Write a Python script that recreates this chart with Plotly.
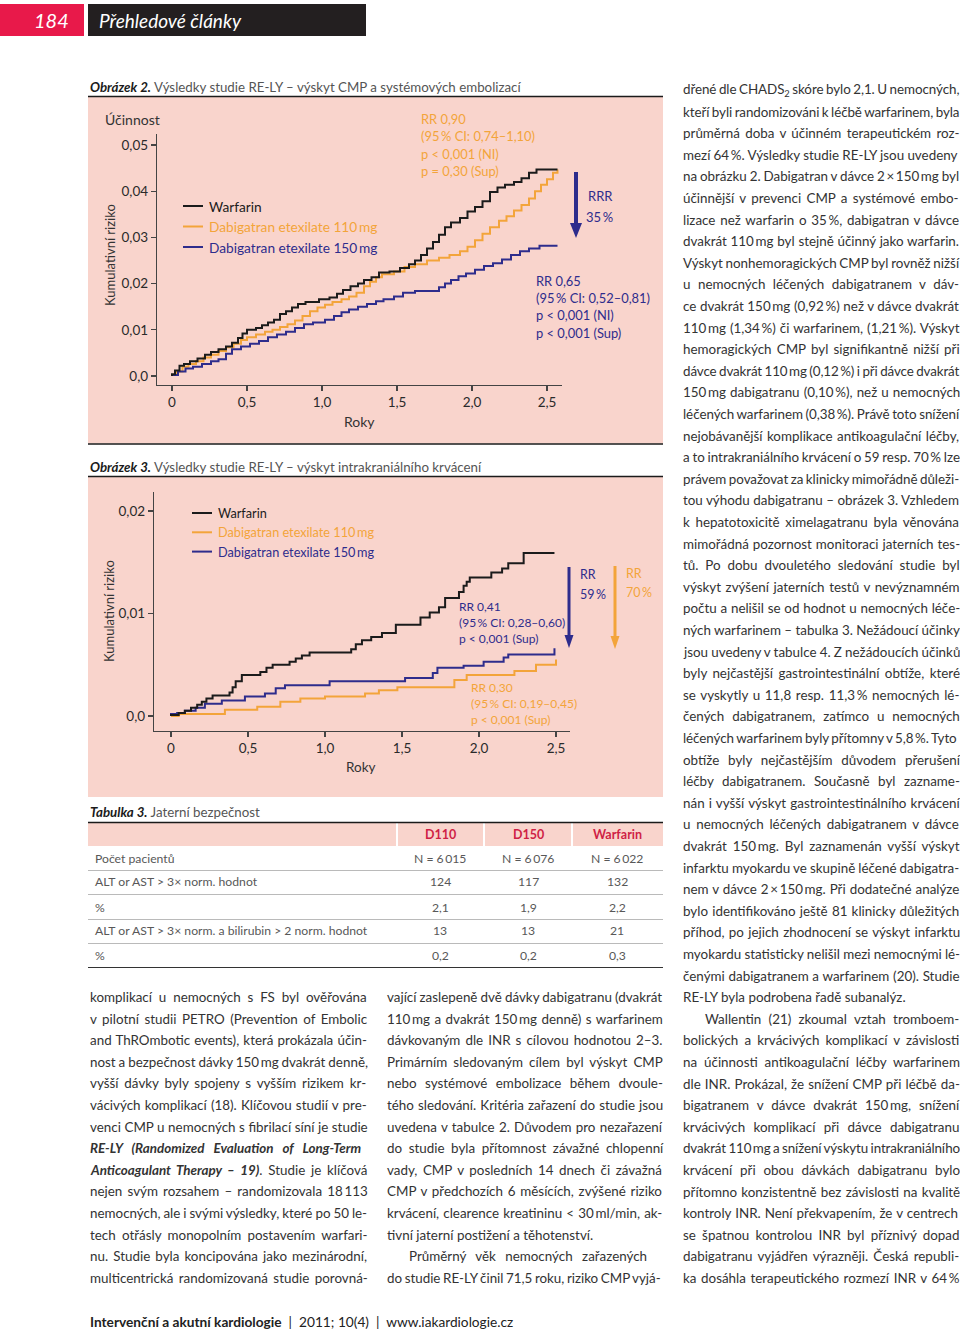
import glob
import os
import re
import struct

import plotly.graph_objects as go

# ---------------------------------------------------------------- data
tick_years = [0, 0.5, 1.0, 1.5, 2.0, 2.5]
tick_year_labels = ["0", "0,5", "1,0", "1,5", "2,0", "2,5"]

fig2_yticks = [0, 0.01, 0.02, 0.03, 0.04, 0.05]
fig2_ytick_labels = ["0,0", "0,01", "0,02", "0,03", "0,04", "0,05"]
fig3_yticks = [0, 0.01, 0.02]
fig3_ytick_labels = ["0,0", "0,01", "0,02"]

series_names = ["Warfarin", "Dabigatran etexilate 110\u2009mg", "Dabigatran etexilate 150\u2009mg"]

# Obrázek 2 – CMP / systémová embolizace (Kaplan-Meier, schodovitě)
f2_warf_x = [0, 0.02, 0.05, 0.08, 0.12, 0.17, 0.22, 0.26, 0.31, 0.36, 0.40, 0.44, 0.47, 0.50,
             0.56, 0.60, 0.64, 0.68, 0.72, 0.76, 0.80, 0.84, 0.89, 0.98, 1.05, 1.10, 1.14,
             1.19, 1.24, 1.28, 1.33, 1.38, 1.45, 1.52, 1.58, 1.62, 1.66, 1.70, 1.74, 1.78,
             1.82, 1.86, 1.92, 1.97, 2.02, 2.07, 2.12, 2.17, 2.22, 2.28, 2.33, 2.38, 2.43, 2.57]
f2_warf_y = [0.0004, 0.0012, 0.0022, 0.0026, 0.0032, 0.0038, 0.0046, 0.0052, 0.0058, 0.0064,
             0.0072, 0.0082, 0.0092, 0.0100, 0.0104, 0.0110, 0.0116, 0.0122, 0.0134, 0.0140,
             0.0148, 0.0156, 0.0160, 0.0166, 0.0170, 0.0178, 0.0186, 0.0194, 0.0200, 0.0208,
             0.0214, 0.0224, 0.0226, 0.0234, 0.0242, 0.0250, 0.0262, 0.0276, 0.0290, 0.0306,
             0.0322, 0.0332, 0.0342, 0.0356, 0.0366, 0.0378, 0.0398, 0.0408, 0.0414, 0.0420,
             0.0428, 0.0440, 0.0447, 0.0447]
f2_d110_x = [0, 0.03, 0.07, 0.11, 0.16, 0.21, 0.26, 0.31, 0.36, 0.41, 0.46, 0.50, 0.56, 0.62,
             0.67, 0.72, 0.77, 0.82, 0.87, 0.92, 0.97, 1.02, 1.07, 1.13, 1.18, 1.23, 1.28,
             1.32, 1.36, 1.40, 1.48, 1.55, 1.62, 1.70, 1.78, 1.85, 1.92, 1.97, 2.02, 2.07,
             2.12, 2.18, 2.23, 2.28, 2.33, 2.38, 2.42, 2.46, 2.50, 2.54, 2.57]
f2_d110_y = [0.0002, 0.0010, 0.0020, 0.0026, 0.0032, 0.0040, 0.0046, 0.0054, 0.0062, 0.0070,
             0.0078, 0.0084, 0.0090, 0.0096, 0.0100, 0.0106, 0.0112, 0.0120, 0.0130, 0.0140,
             0.0148, 0.0154, 0.0160, 0.0166, 0.0172, 0.0180, 0.0194, 0.0204, 0.0214, 0.0220,
             0.0226, 0.0236, 0.0242, 0.0250, 0.0256, 0.0262, 0.0270, 0.0280, 0.0294, 0.0308,
             0.0322, 0.0336, 0.0346, 0.0358, 0.0370, 0.0384, 0.0400, 0.0414, 0.0426, 0.0440,
             0.0447]
f2_d150_x = [0, 0.04, 0.09, 0.14, 0.20, 0.26, 0.31, 0.36, 0.40, 0.46, 0.52, 0.58, 0.64, 0.70,
             0.76, 0.82, 0.88, 0.94, 1.02, 1.08, 1.13, 1.18, 1.24, 1.30, 1.36, 1.41, 1.48,
             1.54, 1.62, 1.78, 1.82, 1.86, 1.91, 1.96, 2.02, 2.08, 2.14, 2.20, 2.26, 2.32,
             2.38, 2.45, 2.57]
f2_d150_y = [0.0002, 0.0010, 0.0016, 0.0020, 0.0026, 0.0032, 0.0036, 0.0048, 0.0058, 0.0064,
             0.0070, 0.0076, 0.0084, 0.0090, 0.0096, 0.0104, 0.0112, 0.0116, 0.0122, 0.0130,
             0.0138, 0.0144, 0.0150, 0.0156, 0.0162, 0.0166, 0.0172, 0.0180, 0.0184, 0.0192,
             0.0200, 0.0208, 0.0216, 0.0222, 0.0230, 0.0238, 0.0244, 0.0252, 0.0262, 0.0270,
             0.0276, 0.0282, 0.0282]

# Obrázek 3 – intrakraniální krvácení
f3_warf_x = [0, 0.05, 0.09, 0.13, 0.17, 0.20, 0.23, 0.27, 0.38, 0.40, 0.42, 0.46, 0.58, 0.62,
             0.66, 0.77, 0.81, 0.85, 0.90, 1.17, 1.20, 1.24, 1.30, 1.37, 1.46, 1.62, 1.68,
             1.74, 1.78, 1.87, 1.90, 1.92, 1.94, 2.08, 2.15, 2.19, 2.29, 2.49]
f3_warf_y = [0.0001, 0.0003, 0.0005, 0.0008, 0.0011, 0.0014, 0.0017, 0.0020, 0.0023, 0.0028,
             0.0034, 0.0040, 0.0043, 0.0047, 0.0050, 0.0053, 0.0056, 0.0059, 0.0062, 0.0065,
             0.0070, 0.0074, 0.0077, 0.0081, 0.0089, 0.0096, 0.0101, 0.0106, 0.0115, 0.0121,
             0.0127, 0.0131, 0.0135, 0.0140, 0.0144, 0.0149, 0.0159, 0.0159]
f3_d110_x = [0, 0.05, 0.35, 0.56, 0.71, 0.84, 1.00, 1.26, 1.35, 1.47, 1.84, 1.92, 2.23, 2.37,
             2.49, 2.50]
f3_d110_y = [0.0000, 0.0002, 0.0006, 0.0009, 0.0014, 0.0017, 0.0019, 0.0022, 0.0025, 0.0028,
             0.0035, 0.0040, 0.0044, 0.0050, 0.0050, 0.0055]
f3_d150_x = [0, 0.04, 0.09, 0.16, 0.22, 0.33, 0.48, 0.61, 0.68, 0.74, 1.03, 1.52, 1.70, 1.73,
             1.90, 2.03, 2.16, 2.19, 2.48, 2.49]
f3_d150_y = [0.0002, 0.0003, 0.0005, 0.0008, 0.0012, 0.0015, 0.0019, 0.0022, 0.0027, 0.0030,
             0.0034, 0.0037, 0.0042, 0.0047, 0.0049, 0.0053, 0.0057, 0.0060, 0.0060, 0.0066]

# Tabulka 3
table_columns = ["D110", "D150", "Warfarin"]
table_rows = ["Počet pacientů", "ALT or AST > 3× norm. hodnot", "%",
              "ALT or AST > 3× norm. a bilirubin > 2 norm. hodnot", "%"]
table_d110 = ["N = 6\u2009015", "124", "2,1", "13", "0,2"]
table_d150 = ["N = 6\u2009076", "117", "1,9", "13", "0,2"]
table_warf = ["N = 6\u2009022", "132", "2,2", "21", "0,3"]

# Text sloupců ("\t" = odsazení odstavce, "\n" na konci = poslední řádek odstavce)
left_lines = [
    "komplikací u nemocných s FS byl ověřována",
    "v pilotní studii PETRO (Prevention of Embolic",
    "and ThROmbotic events), která prokázala účin-",
    "nost a bezpečnost dávky 150\u2009mg dvakrát denně,",
    "vyšší dávky byly spojeny s vyšším rizikem kr-",
    "vácivých komplikací (18). Klíčovou studií v pre-",
    "venci CMP u nemocných s fibrilací síní je studie",
    "<b><i>RE-LY (Randomized Evaluation of Long-Term</i></b>",
    "<b><i>Anticoagulant Therapy – 19)</i></b>. Studie je klíčová",
    "nejen svým rozsahem – randomizovala 18\u2009113",
    "nemocných, ale i svými výsledky, které po 50 le-",
    "tech otřásly monopolním postavením warfari-",
    "nu. Studie byla koncipována jako mezinárodní,",
    "multicentrická randomizovaná studie porovná-",
]
middle_lines = [
    "vající zaslepeně dvě dávky dabigatranu (dvakrát",
    "110\u2009mg a dvakrát 150\u2009mg denně) s warfarinem",
    "dávkovaným dle INR s cílovou hodnotou 2–3.",
    "Primárním sledovaným cílem byl výskyt CMP",
    "nebo systémové embolizace během dvoule-",
    "tého sledování. Kritéria zařazení do studie jsou",
    "uvedena v tabulce 2. Důvodem pro nezařazení",
    "do studie byla přítomnost závažné chlopenní",
    "vady, CMP v posledních 14 dnech či závažná",
    "CMP v předchozích 6 měsících, zvýšené riziko",
    "krvácení, clearence kreatininu < 30\u2009ml/min, ak-",
    "tivní jaterní postižení a těhotenství.\n",
    "\tPrůměrný věk nemocných zařazených",
    "do studie RE-LY činil 71,5 roku, riziko CMP vyjá-",
]
right_lines = [
    "dřené dle CHADS<sub>2</sub> skóre bylo 2,1. U nemocných,",
    "kteří byli randomizováni k léčbě warfarinem, byla",
    "průměrná doba v účinném terapeutickém roz-",
    "mezí 64\u2009%. Výsledky studie RE-LY jsou uvedeny",
    "na obrázku 2. Dabigatran v dávce 2\u2009×\u2009150\u2009mg byl",
    "účinnější v prevenci CMP a systémové embo-",
    "lizace než warfarin o 35\u2009%, dabigatran v dávce",
    "dvakrát 110\u2009mg byl stejně účinný jako warfarin.",
    "Výskyt nonhemoragických CMP byl rovněž nižší",
    "u nemocných léčených dabigatranem v dáv-",
    "ce dvakrát 150\u2009mg (0,92\u2009%) než v dávce dvakrát",
    "110\u2009mg (1,34\u2009%) či warfarinem, (1,21\u2009%). Výskyt",
    "hemoragických CMP byl signifikantně nižší při",
    "dávce dvakrát 110\u2009mg (0,12\u2009%) i při dávce dvakrát",
    "150\u2009mg dabigatranu (0,10\u2009%), než u nemocných",
    "léčených warfarinem (0,38\u2009%). Právě toto snížení",
    "nejobávanější komplikace antikoagulační léčby,",
    "a to intrakraniálního krvácení o 59 resp. 70\u2009% lze",
    "právem považovat za klinicky mimořádně důleži-",
    "tou výhodu dabigatranu – obrázek 3. Vzhledem",
    "k hepatotoxicitě ximelagatranu byla věnována",
    "mimořádná pozornost monitoraci jaterních tes-",
    "tů. Po dobu dvouletého sledování studie byl",
    "výskyt zvýšení jaterních testů v nevýznamném",
    "počtu a nelišil se od hodnot u nemocných léče-",
    "ných warfarinem – tabulka 3. Nežádoucí účinky",
    "jsou uvedeny v tabulce 4. Z nežádoucích účinků",
    "byly nejčastější gastrointestinální obtíže, které",
    "se vyskytly u 11,8 resp. 11,3\u2009% nemocných lé-",
    "čených dabigatranem, zatímco u nemocných",
    "léčených warfarinem byly přítomny v 5,8\u2009%. Tyto",
    "obtíže byly nejčastějším důvodem přerušení",
    "léčby dabigatranem. Současně byl zazname-",
    "nán i vyšší výskyt gastrointestinálního krvácení",
    "u nemocných léčených dabigatranem v dávce",
    "dvakrát 150\u2009mg. Byl zaznamenán vyšší výskyt",
    "infarktu myokardu ve skupině léčené dabigatra-",
    "nem v dávce 2\u2009×\u2009150\u2009mg. Při dodatečné analýze",
    "bylo identifikováno ještě 81 klinicky důležitých",
    "příhod, po jejich zhodnocení se výskyt infarktu",
    "myokardu statisticky nelišil mezi nemocnými lé-",
    "čenými dabigatranem a warfarinem (20). Studie",
    "RE-LY byla podrobena řadě subanalýz.\n",
    "\tWallentin (21) zkoumal vztah tromboem-",
    "bolických a krvácivých komplikací v závislosti",
    "na účinnosti antikoagulační léčby warfarinem",
    "dle INR. Prokázal, že snížení CMP při léčbě da-",
    "bigatranem v dávce dvakrát 150\u2009mg, snížení",
    "krvácivých komplikací při dávce dabigatranu",
    "dvakrát 110\u2009mg a snížení výskytu intrakraniálního",
    "krvácení při obou dávkách dabigatranu bylo",
    "přítomno konzistentně bez závislosti na kvalitě",
    "kontroly INR. Není překvapením, že v centrech",
    "se špatnou kontrolou INR byl příznivý dopad",
    "dabigatranu vyjádřen výrazněji. Česká republi-",
    "ka dosáhla terapeutického rozmezí INR v 64\u2009%",
]

# ---------------------------------------------------------------- font metrics (for justified text)
def _find_font(name):
    for root in ["/usr/share/fonts", "/usr/local/share/fonts", os.path.expanduser("~/.fonts"),
                 os.path.expanduser("~/.local/share/fonts")]:
        hits = glob.glob(os.path.join(root, "**", name), recursive=True)
        if hits:
            return hits[0]
    return None


def _load_metrics(path):
    try:
        data = open(path, "rb").read()
        num = struct.unpack(">H", data[4:6])[0]
        tables = {}
        for i in range(num):
            tag, _, off, ln = struct.unpack(">4sIII", data[12 + 16 * i:28 + 16 * i])
            tables[tag.decode("latin1")] = off
        head = tables["head"]
        upem = struct.unpack(">H", data[head + 18:head + 20])[0]
        hhea = tables["hhea"]
        nhm = struct.unpack(">H", data[hhea + 34:hhea + 36])[0]
        hmtx = tables["hmtx"]
        adv = [struct.unpack(">H", data[hmtx + 4 * i:hmtx + 4 * i + 2])[0] for i in range(nhm)]
        cm = tables["cmap"]
        nsub = struct.unpack(">H", data[cm + 2:cm + 4])[0]
        sub = None
        for i in range(nsub):
            pid, eid, off = struct.unpack(">HHI", data[cm + 4 + 8 * i:cm + 12 + 8 * i])
            fmt = struct.unpack(">H", data[cm + off:cm + off + 2])[0]
            if fmt == 4 and (pid == 3 or pid == 0):
                sub = cm + off
                break
        o = sub
        segx2 = struct.unpack(">H", data[o + 6:o + 8])[0]
        n = segx2 // 2
        ends = struct.unpack(">%dH" % n, data[o + 14:o + 14 + segx2])
        starts = struct.unpack(">%dH" % n, data[o + 16 + segx2:o + 16 + 2 * segx2])
        deltas = struct.unpack(">%dh" % n, data[o + 16 + 2 * segx2:o + 16 + 3 * segx2])
        rpos = o + 16 + 3 * segx2
        roffs = struct.unpack(">%dH" % n, data[rpos:rpos + segx2])
        cmap = {}
        for i in range(n):
            s, e, d, r = starts[i], ends[i], deltas[i], roffs[i]
            if s == 0xFFFF:
                continue
            for c in range(s, min(e, 0x2FFF) + 1):
                if r == 0:
                    g = (c + d) & 0xFFFF
                else:
                    a = rpos + 2 * i + r + 2 * (c - s)
                    g = struct.unpack(">H", data[a:a + 2])[0]
                    if g:
                        g = (g + d) & 0xFFFF
                cmap[c] = g
        return {ch: adv[min(g, nhm - 1)] / upem for ch, g in cmap.items()}
    except Exception:
        return None


_reg_path = _find_font("Lato-Regular.ttf")
_bi_path = _find_font("Lato-BoldItalic.ttf")
M_REG = _load_metrics(_reg_path) if _reg_path else None
M_BI = _load_metrics(_bi_path) if _bi_path else None


def text_width(s, size):
    """Natural width (px) and visible character count of a line with <b>/<i>/<sub> markup."""
    if M_REG is None:
        return None, 0
    bold = ital = sub = False
    w = 0.0
    n = 0
    for tok in re.split(r"(<[^>]+>)", s):
        if tok.startswith("<"):
            t = tok.strip("<>/").lower()
            val = not tok.startswith("</")
            if t == "b":
                bold = val
            elif t == "i":
                ital = val
            elif t == "sub":
                sub = val
            continue
        m = M_BI if (bold and ital and M_BI) else M_REG
        k = 0.7 if sub else 1.0
        for ch in tok:
            w += m.get(ord(ch), 0.5) * size * k
            n += 1
    return w, n


# ---------------------------------------------------------------- style
W, H = 960, 1330
FONT = "Lato"
BLACK = "#1b1b1b"
ORANGE = "#f3a43a"
NAVY = "#2e2c8c"
PINK = "#f9d4cc"
TEXT = "#333333"
GREY = "#585858"
RED = "#e8194a"
series_colors = [BLACK, ORANGE, NAVY]
BODY = 13.4


def fx(p):
    return p / W


def fy(p):
    return 1 - p / H


fig = go.Figure()
annotations = []
shapes = []


def txt(x, y, s, size=13.5, color=TEXT, anchor="left", angle=0, family=FONT):
    annotations.append(dict(
        x=fx(x), y=fy(y), xref="paper", yref="paper", text=s, showarrow=False,
        xanchor=anchor, yanchor="middle", textangle=angle, align="left",
        font=dict(family=family, size=size, color=color)))


def rect(x0, y0, x1, y1, color, layer="below"):
    shapes.append(dict(type="rect", xref="paper", yref="paper", x0=fx(x0), x1=fx(x1),
                       y0=fy(y1), y1=fy(y0), fillcolor=color, line=dict(width=0), layer=layer))


def hline(x0, x1, y, color, width):
    shapes.append(dict(type="line", xref="paper", yref="paper", x0=fx(x0), x1=fx(x1),
                       y0=fy(y), y1=fy(y), line=dict(color=color, width=width)))


def arrow(x, y0, y1, color, half=6, head=13, width=3.5):
    shapes.append(dict(type="line", xref="paper", yref="paper", x0=fx(x), x1=fx(x),
                       y0=fy(y0), y1=fy(y1 - head + 2), line=dict(color=color, width=width)))
    path = "M {} {} L {} {} L {} {} Z".format(fx(x - half), fy(y1 - head), fx(x + half),
                                             fy(y1 - head), fx(x), fy(y1))
    shapes.append(dict(type="path", xref="paper", yref="paper", path=path,
                       fillcolor=color, line=dict(width=0)))


def column(lines, x_left, x_right, y0, size=BODY, lh=21.6, indent=22):
    for k, raw in enumerate(lines):
        s = raw
        last = s.endswith("\n")
        s = s.rstrip("\n")
        x = x_left
        if s.startswith("\t"):
            s = s[1:]
            x = x_left + indent
        out = s
        nsp = s.count(" ")
        w, nch = text_width(s, size)
        if not last and nsp and w is not None:
            slack = x_right - x - w
            ws = slack / nsp
            ls = 0.0
            if ws < -0.8:
                ws = -0.8
                ls = (slack - ws * nsp) / max(nch, 1)
            ws = min(6.0, ws)
            style = "word-spacing:%.2fpx" % ws
            if ls:
                style += ";letter-spacing:%.3fpx" % ls
            out = "<span style='%s'>%s</span>" % (style, s)
        txt(x, y0 + k * lh, out, size=size)


# ---------------------------------------------------------------- header
rect(0, 4, 84, 36, RED)
rect(88, 4, 366, 36, "#231f20")
txt(51, 20, "<i>184</i>", size=20, color="white", anchor="center")
txt(97, 20, "<i>Přehledové články</i>", size=19, color="white")

# ---------------------------------------------------------------- traces
step_sets = [
    ("x", "y", [(f2_warf_x, f2_warf_y), (f2_d110_x, f2_d110_y), (f2_d150_x, f2_d150_y)]),
    ("x2", "y2", [(f3_warf_x, f3_warf_y), (f3_d110_x, f3_d110_y), (f3_d150_x, f3_d150_y)]),
]
for xa, ya, sets in step_sets:
    for i in [1, 2, 0]:
        xs, ys = sets[i]
        fig.add_trace(go.Scatter(
            x=[0] + xs, y=[0] + ys, mode="lines",
            line=dict(color=series_colors[i], width=2, shape="hv"),
            name=series_names[i], xaxis=xa, yaxis=ya, showlegend=False, hoverinfo="skip"))

# ---------------------------------------------------------------- Obrázek 2
txt(88, 87, "<b><i>Obrázek 2.</i></b><span style='color:#555'> Výsledky studie RE-LY – výskyt CMP a systémových embolizací</span>",
    size=13.3, color=BLACK)
hline(88, 663, 96.5, BLACK, 1.5)
rect(88, 97, 663, 443.5, PINK)
hline(88, 663, 444, BLACK, 1.5)

txt(103, 119, "Účinnost", size=14)
txt(110, 255, "Kumulativní riziko", size=13, anchor="center", angle=-90)
txt(359, 422, "Roky", size=14, anchor="center")

for k, (nm, col) in enumerate(zip(series_names, series_colors)):
    yy = 206 + k * 20.5
    shapes.append(dict(type="line", xref="paper", yref="paper", x0=fx(183), x1=fx(203),
                       y0=fy(yy), y1=fy(yy), line=dict(color=col, width=2)))
    txt(207, yy, nm, size=13.7, color=col)

for k, s in enumerate(["RR 0,90", "(95\u2009% CI: 0,74–1,10)", "p < 0,001 (NI)", "p = 0,30 (Sup)"]):
    txt(419, 119 + k * 17.3, s, size=12.9, color=ORANGE)
for k, s in enumerate(["RR 0,65", "(95\u2009% CI: 0,52–0,81)", "p < 0,001 (NI)", "p < 0,001 (Sup)"]):
    txt(534, 281 + k * 17.2, s, size=12.9, color=NAVY)
txt(586, 196, "RRR", size=13, color=NAVY)
txt(584, 217, "35\u2009%", size=13, color=NAVY)
arrow(576, 172, 238, NAVY, half=6, head=15, width=4)

# ---------------------------------------------------------------- Obrázek 3
txt(88, 467, "<b><i>Obrázek 3.</i></b><span style='color:#555'> Výsledky studie RE-LY – výskyt intrakraniálního krvácení</span>",
    size=13.3, color=BLACK)
hline(88, 663, 476.5, BLACK, 1.5)
rect(88, 477, 663, 797, PINK)

txt(109, 611, "Kumulativní riziko", size=13, anchor="center", angle=-90)
txt(361, 767, "Roky", size=13.5, anchor="center")

for k, (nm, col) in enumerate(zip(series_names, series_colors)):
    yy = 513 + k * 19.3
    shapes.append(dict(type="line", xref="paper", yref="paper", x0=fx(192), x1=fx(212),
                       y0=fy(yy), y1=fy(yy), line=dict(color=col, width=2)))
    txt(216, yy, nm, size=12.7, color=col)

for k, s in enumerate(["RR 0,41", "(95\u2009% CI: 0,28–0,60)", "p < 0,001 (Sup)"]):
    txt(457, 606 + k * 16.2, s, size=12, color=NAVY)
for k, s in enumerate(["RR 0,30", "(95\u2009% CI: 0,19–0,45)", "p < 0,001 (Sup)"]):
    txt(469, 687 + k * 16.2, s, size=12, color=ORANGE)
arrow(569, 567, 648, NAVY, half=4.5, head=13, width=3)
arrow(615, 566, 649, ORANGE, half=4.5, head=13, width=3)
txt(578, 575, "RR", size=12.5, color=NAVY)
txt(578, 594, "59\u2009%", size=12.5, color=NAVY)
txt(624, 573, "RR", size=12.5, color=ORANGE)
txt(624, 592, "70\u2009%", size=12.5, color=ORANGE)

# ---------------------------------------------------------------- axes
axis_base = dict(showgrid=False, zeroline=False, showline=True, linecolor="#444444",
                 linewidth=1.2, ticks="outside", ticklen=5, tickwidth=1.2,
                 tickcolor="#444444", fixedrange=True,
                 tickfont=dict(family=FONT, size=13.5, color="#2a2a2a"))
fig.update_layout(
    xaxis=dict(axis_base, domain=[fx(157), fx(562)], range=[-0.1, 2.6], anchor="y",
               tickvals=tick_years, ticktext=tick_year_labels),
    yaxis=dict(axis_base, domain=[fy(385), fy(134)], range=[-9 / 4620, 242 / 4620], anchor="x",
               tickvals=fig2_yticks, ticktext=fig2_ytick_labels),
    xaxis2=dict(axis_base, domain=[fx(154), fx(570)], range=[-17 / 154, 399 / 154], anchor="y2",
                tickvals=tick_years, ticktext=tick_year_labels),
    yaxis2=dict(axis_base, domain=[fy(731), fy(492)], range=[-15 / 10250, 224 / 10250],
                anchor="x2", tickvals=fig3_yticks, ticktext=fig3_ytick_labels),
)

# ---------------------------------------------------------------- Tabulka 3
txt(88, 812, "<b><i>Tabulka 3.</i></b><span style='color:#555'> Jaterní bezpečnost</span>",
    size=13.3, color=BLACK)
hline(88, 663, 822.5, BLACK, 1.5)
col_edges = [88, 397, 484, 572, 663]
for c in range(4):
    rect(col_edges[c] + (1 if c else 0), 823, col_edges[c + 1] - (1 if c < 3 else 0), 846, PINK)
col_centers = [440, 528, 617]
for name, cx in zip(table_columns, col_centers):
    txt(cx, 834.5, "<b>" + name + "</b>", size=12.5, color="#cf1f45", anchor="center")
row_y = [858, 882, 907, 931, 955]
for r, yy in enumerate(row_y):
    txt(93, yy, table_rows[r], size=12.2, color=GREY)
    for vals, cx in zip([table_d110, table_d150, table_warf], col_centers):
        txt(cx, yy, vals[r], size=12.2, color=GREY, anchor="center")
    if r < 4:
        hline(88, 663, yy + 12.5, "#a8a8a8", 0.8)
hline(88, 663, 967.5, "#333333", 1.2)

# ---------------------------------------------------------------- body text
column(left_lines, 88, 367, 997)
column(middle_lines, 385, 662, 997)
column(right_lines, 681, 959, 90)

# ---------------------------------------------------------------- footer
txt(88, 1321, "<b>Intervenční a akutní kardiologie</b>  |  2011; 10(4)  |  www.iakardiologie.cz",
    size=13.7, color="#222222")

fig.update_layout(
    width=W, height=H, autosize=False,
    margin=dict(l=0, r=0, t=0, b=0),
    paper_bgcolor="white", plot_bgcolor="rgba(0,0,0,0)",
    showlegend=False,
    annotations=annotations, shapes=shapes,
    font=dict(family=FONT, color=TEXT),
)

fig.write_html("out.html", config={"displayModeBar": False, "staticPlot": True},
               post_script="document.body.style.margin='0px';document.body.style.padding='0px';")
